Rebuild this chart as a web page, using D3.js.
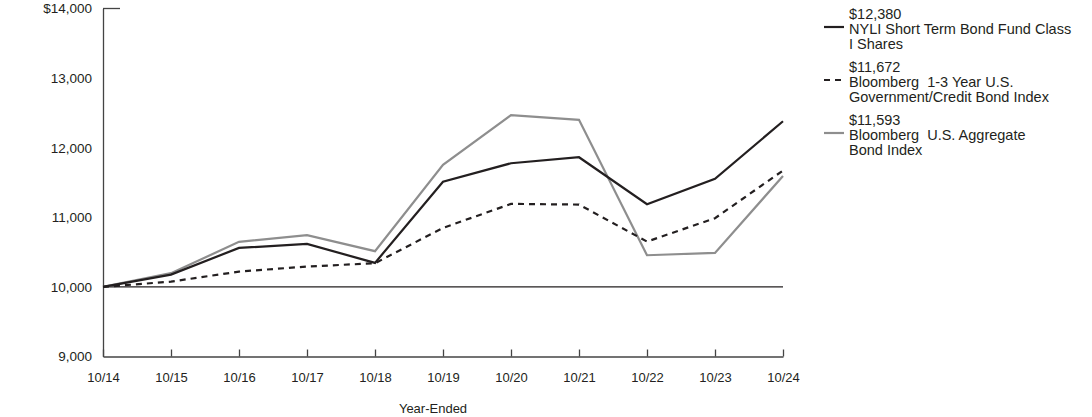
<!DOCTYPE html>
<html><head><meta charset="utf-8">
<script src="https://cdn.jsdelivr.net/npm/d3@7"></script>
<style>body{margin:0;background:#fff}svg{display:block}text{font-family:"Liberation Sans",Arial,sans-serif;fill:#231f20}</style>
</head><body><svg id="c" width="1092" height="417"></svg>
<script>
const categories = ["10/14","10/15","10/16","10/17","10/18","10/19","10/20","10/21","10/22","10/23","10/24"];
const fundValues = [10000,10177,10560,10618,10345,11510,11777,11863,11188,11552,12380];
const shortIndexValues = [10000,10076,10220,10292,10340,10848,11193,11183,10651,10987,11672];
const aggIndexValues = [10000,10197,10647,10743,10513,11753,12467,12400,10455,10489,11593];
const yTicks = [9000,10000,11000,12000,13000,14000];
const seriesNames = [["$12,380","NYLI Short Term Bond Fund Class","I Shares"],["$11,672","Bloomberg  1-3 Year U.S.","Government/Credit Bond Index"],["$11,593","Bloomberg  U.S. Aggregate","Bond Index"]];

const svg = d3.select("#c");
const x = d3.scalePoint().domain(categories).range([103,783]);
const y = d3.scaleLinear().domain([9000,14000]).range([356.5,8.5]);
const dark = "#231f20", gray = "#8e8e8e";

svg.append("line").attr("x1",103).attr("x2",783).attr("y1",y(10000)).attr("y2",y(10000)).attr("stroke",dark).attr("stroke-width",1.2);

const ya = svg.append("g").attr("transform","translate(103,0)")
  .call(d3.axisLeft(y).tickValues(yTicks).tickSize(0).tickPadding(11).tickFormat((d,i)=> d===14000 ? "$14,000" : d3.format(",")(d)));
ya.select(".domain").attr("stroke","#444").attr("stroke-width",1.3);
ya.selectAll("text").attr("font-size",13.5).style("font-family","Liberation Sans, Arial, sans-serif").attr("fill",dark);
svg.append("line").attr("x1",103).attr("x2",120).attr("y1",y(14000)).attr("y2",y(14000)).attr("stroke","#444").attr("stroke-width",1.3);

const xa = svg.append("g").attr("transform",`translate(0,${y(9000)})`)
  .call(d3.axisTop(x).tickSize(7).tickSizeOuter(0).tickFormat(d=>d));
xa.select(".domain").attr("stroke","#444").attr("stroke-width",1.3);
xa.selectAll(".tick line").attr("stroke","#444").attr("stroke-width",1.3);
xa.selectAll("text").attr("font-size",13).attr("y",21).attr("dy","0.35em").style("font-family","Liberation Sans, Arial, sans-serif").attr("fill",dark);
svg.append("text").attr("x",433).attr("y",413).attr("text-anchor","middle").attr("font-size",13).text("Year-Ended");

const line = d3.line().x((d,i)=>x(categories[i])).y(d=>y(d));
svg.append("path").datum(aggIndexValues).attr("d",line).attr("fill","none").attr("stroke",gray).attr("stroke-width",2.2);
svg.append("path").datum(shortIndexValues).attr("d",line).attr("fill","none").attr("stroke",dark).attr("stroke-width",2.2).attr("stroke-dasharray","6,5");
svg.append("path").datum(fundValues).attr("d",line).attr("fill","none").attr("stroke",dark).attr("stroke-width",2.2);

const styles = [{c:dark,d:null},{c:dark,d:"6,5"},{c:gray,d:null}];
const tops = [14,67,120];
seriesNames.forEach((lines,i)=>{
  const g = svg.append("g");
  g.append("line").attr("x1",824).attr("x2",844).attr("y1",tops[i]+13).attr("y2",tops[i]+13)
    .attr("stroke",styles[i].c).attr("stroke-width",2.2).attr("stroke-dasharray",styles[i].d);
  lines.forEach((t,j)=>{
    g.append("text").attr("x",849).attr("y",tops[i]+j*15).attr("dy","0.35em").attr("font-size",14.5)
      .style("white-space","pre").text(t);
  });
});
</script></body></html>
